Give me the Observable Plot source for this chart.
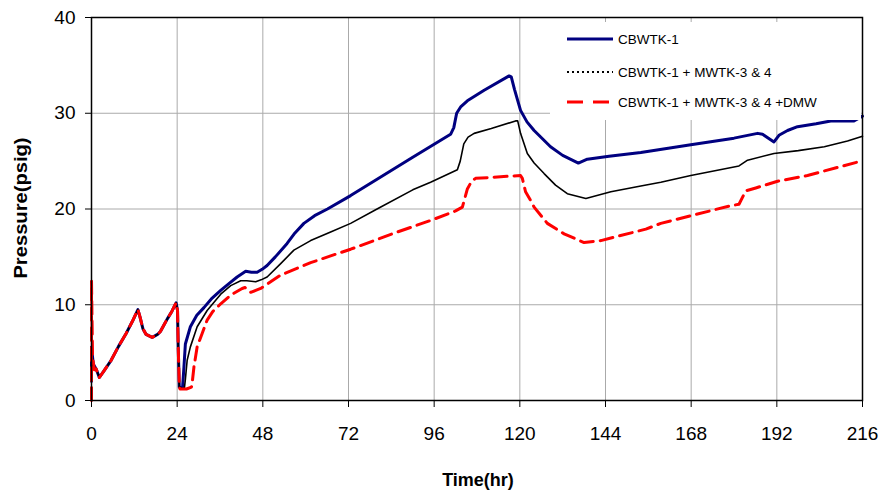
<!DOCTYPE html>
<html>
<head>
<meta charset="utf-8">
<script src="https://cdn.jsdelivr.net/npm/d3@7"></script>
<script src="https://cdn.jsdelivr.net/npm/@observablehq/plot@0.6"></script>
<style>
  html, body { margin: 0; padding: 0; background: white; }
  #wrap { position: relative; width: 879px; height: 491px; font-family: "Liberation Sans", Arial, sans-serif; }
  .axlabel { position: absolute; font-weight: bold; font-size: 18px; color: #000; white-space: nowrap; }
  #legend { position: absolute; left: 550px; top: 22px; }
</style>
</head>
<body>
<div id="wrap"></div>
<script>
// ---------- data (time in hours, pressure in psig) ----------
const xTicks = [0, 24, 48, 72, 96, 120, 144, 168, 192, 216];
const yTicks = [0, 10, 20, 30, 40];

const seriesNames = ["CBWTK-1", "CBWTK-1 + MWTK-3 & 4", "CBWTK-1 + MWTK-3 & 4 +DMW"];

// first day, common to all three tests
const commonStart = [
  [1.3, 3.3], [2.2, 2.4], [3.5, 3.1], [5.5, 4.2], [7.5, 5.6], [9.7, 7.0], [11.5, 8.3],
  [13, 9.5], [13.6, 8.7], [14.4, 7.5], [15.3, 6.9], [17, 6.6], [18.5, 6.9], [19.3, 7.2],
  [21.2, 8.5], [22.5, 9.3], [23.7, 10.2], [24.1, 9.4], [24.3, 5.5], [24.6, 1.4]
];

const cbwtk1 = [
  [0, 2.0], [0, 5.6], [0.5, 3.8], ...commonStart,
  [25.5, 1.3], [25.9, 3.5], [26.3, 5.9], [27.7, 7.7], [29.5, 8.9], [31.5, 9.7], [33.8, 10.7],
  [36.2, 11.5], [38.5, 12.2], [40.8, 12.9], [43.2, 13.5], [44.8, 13.4], [46.4, 13.4], [47.8, 13.7],
  [49.2, 14.1], [51.5, 15.0], [54.8, 16.4], [57, 17.5], [59.5, 18.5], [62.5, 19.3], [66.1, 20.0],
  [72.6, 21.4], [80, 23.1], [90, 25.4], [100.6, 27.8], [101.5, 28.5], [102.3, 30.0], [103.5, 30.7],
  [105.3, 31.3], [110, 32.4], [117, 33.9], [117.6, 33.8], [118.5, 32.5], [120.2, 30.3], [122, 29.1],
  [124, 28.2], [128.6, 26.5], [132, 25.6], [136.4, 24.8], [138.9, 25.2], [145, 25.5], [153.9, 25.9],
  [167.9, 26.7], [180, 27.4], [186.6, 27.9], [188, 27.8], [191.2, 27.0], [192.6, 27.7], [195, 28.2],
  [197.8, 28.6], [203, 28.9], [207.1, 29.2], [213.6, 29.2], [215.5, 29.6], [216, 29.7]
];

const cbwtk1Mwtk = [
  [0, 2.4], [0, 5.2], [0.5, 3.6], ...commonStart,
  [26, 1.2], [26.3, 2.2], [26.8, 4.2], [27.7, 5.6], [29.6, 7.7], [32.4, 9.4], [36.2, 11.1],
  [39, 12.0], [41.8, 12.5], [43.5, 12.5], [46, 12.4], [47.5, 12.6], [49.2, 12.9], [53, 14.3],
  [56.7, 15.7], [61.4, 16.7], [67, 17.6], [72.6, 18.5], [80, 20.0], [90, 22.0], [95, 22.8],
  [102.5, 24.1], [103.3, 25.0], [104.3, 26.8], [105.5, 27.5], [107.2, 27.9], [112, 28.4],
  [118.8, 29.2], [119.4, 29.2], [120.2, 27.9], [122.1, 25.8], [124, 24.8], [126.8, 23.7],
  [130, 22.5], [133.3, 21.6], [138.5, 21.1], [145.5, 21.8], [153.9, 22.4], [159.5, 22.8],
  [167.9, 23.5], [181.4, 24.5], [183.8, 25.1], [191.2, 25.8], [198, 26.1], [205.3, 26.5],
  [211.8, 27.1], [216, 27.6]
];

const cbwtk1MwtkDmw = [
  [0, 0], [0, 12.5], [0.3, 4.5], [0.8, 3.2], ...commonStart,
  [24.8, 1.2], [26.6, 1.2], [28.0, 1.4], [28.2, 1.8], [28.7, 3.5], [29.6, 5.6], [31, 7.0],
  [32.4, 8.4], [34, 9.3], [36.2, 10.1], [39, 11.0], [42.2, 11.7], [43, 11.8], [44.6, 11.3],
  [46, 11.5], [47.4, 11.7], [53, 13.1], [61.4, 14.4], [67, 15.1], [72.6, 15.8], [85.7, 17.6],
  [95, 18.8], [102, 19.8], [103.9, 20.2], [104.5, 21.0], [105.3, 22.1], [106.5, 22.9],
  [107.6, 23.2], [112, 23.3], [120.2, 23.5], [120.7, 23.2], [121.6, 21.8], [123, 20.9],
  [124, 20.2], [127.7, 18.5], [132.4, 17.4], [138, 16.5], [142.7, 16.7], [155.3, 17.9],
  [159.5, 18.5], [167.9, 19.3], [178.6, 20.3], [181.4, 20.5], [183.3, 21.9], [186.1, 22.2],
  [192.2, 22.9], [200.6, 23.5], [214.6, 24.9]
];

// ---------- styles ----------
const blue = "#000080", red = "#ff0000", black = "#000000";

const chart = Plot.plot({
  width: 879,
  height: 491,
  marginLeft: 91,
  marginRight: 17,
  marginTop: 17,
  marginBottom: 91,
  style: { fontFamily: '"Liberation Sans", Arial, sans-serif', fontSize: "19px", background: "white", color: "black" },
  x: { domain: [0, 216], label: null },
  y: { domain: [0, 40], label: null },
  marks: [
    Plot.gridX(xTicks, { stroke: "#aaaaaa", strokeOpacity: 1, strokeWidth: 1 }),
    Plot.gridY(yTicks, { stroke: "#aaaaaa", strokeOpacity: 1, strokeWidth: 1 }),
    Plot.line(cbwtk1, { x: d => d[0], y: d => d[1], stroke: blue, strokeWidth: 3 }),
    Plot.line(cbwtk1Mwtk, { x: d => d[0], y: d => d[1], stroke: black, strokeWidth: 1.6 }),
    Plot.line(cbwtk1MwtkDmw, { x: d => d[0], y: d => d[1], stroke: red, strokeWidth: 3, strokeDasharray: "13,7" }),
    Plot.frame({ stroke: "black", strokeWidth: 1.5 }),
    Plot.axisX(xTicks, { tickSize: 7, tickPadding: 19, fontSize: 19, label: null }),
    Plot.axisY(yTicks, { tickSize: 6, tickPadding: 10, fontSize: 19, label: null })
  ]
});

const wrap = document.getElementById("wrap");
wrap.appendChild(chart);

// axis titles
const xl = document.createElement("div");
xl.className = "axlabel";
xl.textContent = "Time(hr)";
xl.style.left = "478px"; xl.style.top = "480px";
xl.style.transform = "translate(-50%,-50%)";
wrap.appendChild(xl);

const yl = document.createElement("div");
yl.className = "axlabel";
yl.textContent = "Pressure(psig)";
yl.style.left = "21px"; yl.style.top = "208px";
yl.style.transform = "translate(-50%,-50%) rotate(-90deg) scale(1.12,1)";
wrap.appendChild(yl);

// legend
const legendStyles = [
  { stroke: blue, width: 3, dash: null },
  { stroke: black, width: 2, dash: "2,3" },
  { stroke: red, width: 3, dash: "16,10" }
];
const legendRows = [17, 50, 80];
const ls = d3.select(wrap).append("svg")
  .attr("id", "legend").attr("width", 311).attr("height", 98);
ls.append("rect").attr("width", 311).attr("height", 98).attr("fill", "white");
seriesNames.forEach((name, i) => {
  const s = legendStyles[i];
  const y = legendRows[i];
  const ln = ls.append("line").attr("x1", 17).attr("x2", 63).attr("y1", y).attr("y2", y)
    .attr("stroke", s.stroke).attr("stroke-width", s.width);
  if (s.dash) ln.attr("stroke-dasharray", s.dash);
  ls.append("text").attr("x", 68).attr("y", y).attr("dy", "0.35em")
    .attr("font-family", '"Liberation Sans", Arial, sans-serif').attr("font-size", 13.5)
    .attr("fill", "black").text(name);
});
</script>
</body>
</html>
